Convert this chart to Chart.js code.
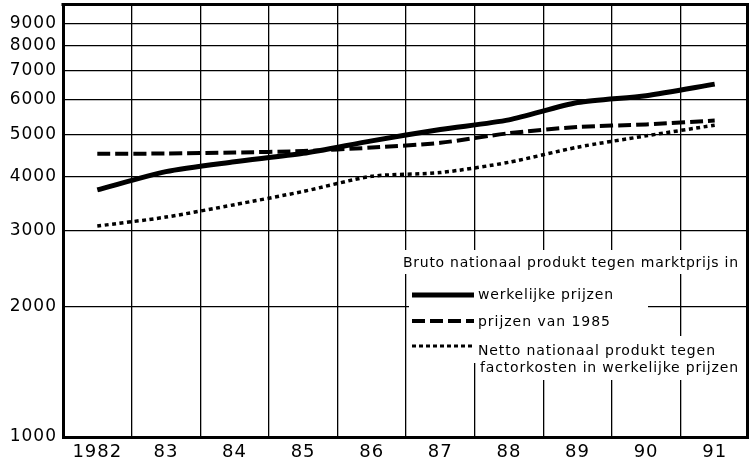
<!DOCTYPE html>
<html>
<head>
<meta charset="utf-8">
<script src="https://cdn.jsdelivr.net/npm/chart.js@4.4.1/dist/chart.umd.min.js"></script>
<style>
  html, body { margin: 0; padding: 0; background: #fff; }
  #wrap { width: 749px; height: 465px; }
</style>
</head>
<body>
<div id="wrap"><canvas id="bnp-chart"></canvas></div>
<script>
// Years on the x axis
const years = ['1982', '83', '84', '85', '86', '87', '88', '89', '90', '91'];

// Bruto nationaal produkt, werkelijke prijzen
const werkelijkePrijzen = [3720, 4100, 4320, 4520, 4830, 5130, 5400, 5920, 6140, 6530];
// Bruto nationaal produkt, prijzen van 1985
const prijzen1985 = [4510, 4515, 4540, 4575, 4660, 4780, 5030, 5200, 5270, 5380];
// Netto nationaal produkt tegen factorkosten
const nettoFactorkosten = [3070, 3220, 3440, 3690, 4000, 4080, 4310, 4670, 4960, 5250];

// Log axis ticks
const yTicks = [1000, 2000, 3000, 4000, 5000, 6000, 7000, 8000, 9000, 10000];

const FONT = '"DejaVu Sans", sans-serif';

// Draw text spread out to a given width
function fitText(ctx, text, x, y, width) {
    ctx.letterSpacing = '0px';
    const w = ctx.measureText(text).width;
    const spacing = (width - w) / (text.length - 1);
    ctx.letterSpacing = spacing + 'px';
    ctx.fillText(text, x, y);
    ctx.letterSpacing = '0px';
}

// Frame + the text legend inside the plot
const legendPlugin = {
    id: 'legendBox',
    beforeDraw(chart) {
        chart.ctx.letterSpacing = '1px';
    },
    afterDraw(chart) {
        const ctx = chart.ctx;
        const area = chart.chartArea;
        ctx.save();
        ctx.letterSpacing = '0px';

        // top and right edge of the frame
        ctx.strokeStyle = '#000';
        ctx.lineWidth = 3;
        ctx.beginPath();
        ctx.moveTo(area.left - 1.5, area.top + 0.5);
        ctx.lineTo(747.5, area.top + 0.5);
        ctx.lineTo(747.5, area.bottom);
        ctx.stroke();

        // knock out the grid behind the legend text
        ctx.fillStyle = '#fff';
        ctx.fillRect(401, 250, 345, 24);
        ctx.fillRect(409, 274, 239, 62);
        ctx.fillRect(409, 336, 336, 27);
        ctx.fillRect(479, 363, 266, 17);

        ctx.fillStyle = '#000';
        ctx.font = '14px ' + FONT;
        ctx.textBaseline = 'alphabetic';
        ctx.textAlign = 'left';
        fitText(ctx, 'Bruto nationaal produkt tegen marktprijs in', 403, 267, 335);

        // line samples
        const samples = [
            { y: 295, width: 5, dash: [] },
            { y: 321, width: 4, dash: [13, 5] },
            { y: 346, width: 3, dash: [4, 3] }
        ];
        samples.forEach(s => {
            ctx.beginPath();
            ctx.lineWidth = s.width;
            ctx.setLineDash(s.dash);
            ctx.moveTo(412, s.y);
            ctx.lineTo(474, s.y);
            ctx.stroke();
        });
        ctx.setLineDash([]);

        fitText(ctx, 'werkelijke prijzen', 478, 299, 135);
        fitText(ctx, 'prijzen van 1985', 478, 326, 132);
        fitText(ctx, 'Netto nationaal produkt tegen', 478, 355, 237);
        fitText(ctx, 'factorkosten in werkelijke prijzen', 480, 372, 258);
        ctx.restore();
    }
};

const ctx = document.getElementById('bnp-chart').getContext('2d');
const chart = new Chart(ctx, {
    type: 'line',
    data: {
        labels: years,
        datasets: [
            {
                label: 'werkelijke prijzen',
                data: werkelijkePrijzen,
                borderColor: '#000',
                borderWidth: 5,
                tension: 0.25
            },
            {
                label: 'prijzen van 1985',
                data: prijzen1985,
                borderColor: '#000',
                borderWidth: 4,
                borderDash: [13, 5],
                tension: 0.25
            },
            {
                label: 'Netto nationaal produkt tegen factorkosten in werkelijke prijzen',
                data: nettoFactorkosten,
                borderColor: '#000',
                borderWidth: 3.5,
                borderDash: [4, 3.5],
                tension: 0.25
            }
        ]
    },
    options: {
        responsive: true,
        maintainAspectRatio: false,
        animation: false,
        layout: { padding: { top: 4, right: -2, left: 0, bottom: 0 } },
        elements: { point: { radius: 0 } },
        plugins: {
            legend: { display: false },
            tooltip: { enabled: false }
        },
        scales: {
            x: {
                type: 'category',
                offset: true,
                afterFit: s => {
                    s.height = 28;
                    s.paddingLeft = 0;
                    s.paddingRight = 0;
                },
                grid: { offset: true, color: '#000', lineWidth: 1.3, drawTicks: false },
                border: { color: '#000', width: 3 },
                ticks: {
                    color: '#000',
                    padding: 5,
                    maxRotation: 0,
                    autoSkip: false,
                    font: { family: FONT, size: 18 }
                }
            },
            y: {
                type: 'logarithmic',
                min: 1000,
                max: 10000,
                afterBuildTicks: s => { s.ticks = yTicks.map(v => ({ value: v })); },
                afterFit: s => {
                    s.width = 63;
                    s.paddingTop = 0;
                    s.paddingBottom = 0;
                },
                grid: { color: '#000', lineWidth: 1.3, drawTicks: false },
                border: { color: '#000', width: 3 },
                ticks: {
                    color: '#000',
                    padding: 6,
                    font: { family: FONT, size: 17 },
                    callback: v => (v < 10000 ? String(v) : '')
                }
            }
        }
    },
    plugins: [legendPlugin]
});
</script>
</body>
</html>
